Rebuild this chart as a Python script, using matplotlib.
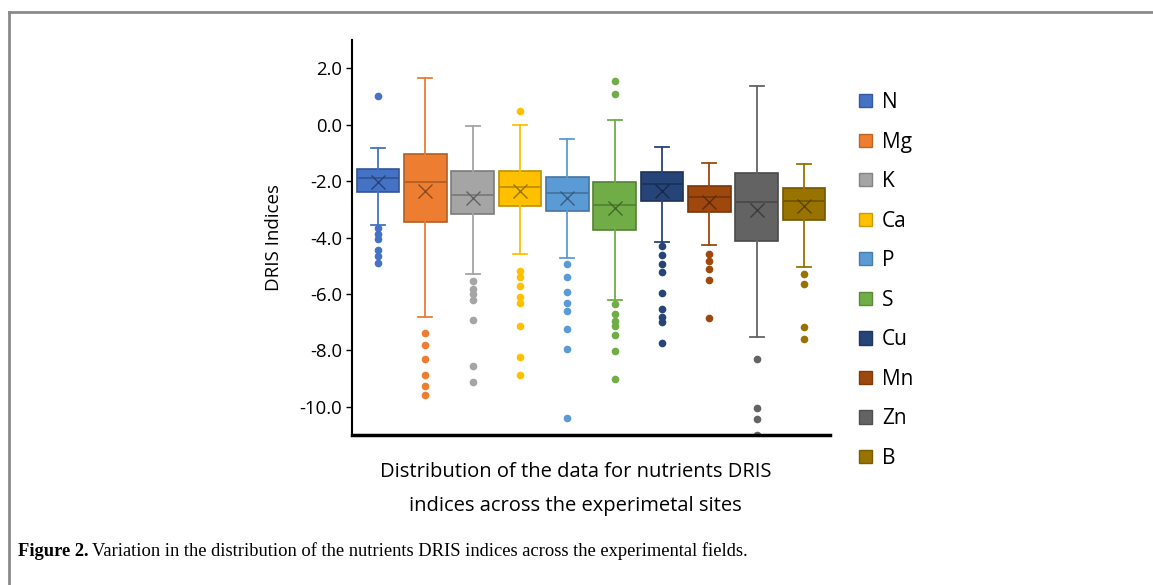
import numpy as np
import matplotlib
matplotlib.use("Agg")
import matplotlib.pyplot as plt
from matplotlib.patches import Patch
from matplotlib.lines import Line2D
import matplotlib.colors as mcolors

# ------------------------------------------------------------------
# Data
# ------------------------------------------------------------------
nutrients = ["N", "Mg", "K", "Ca", "P", "S", "Cu", "Mn", "Zn", "B"]
colors = ["#4472C4", "#ED7D31", "#A5A5A5", "#FFC000", "#5B9BD5",
          "#70AD47", "#264478", "#9E480E", "#636363", "#997300"]

q1 = [-2.40, -3.45, -3.16, -2.89, -3.06, -3.74, -2.69, -3.09, -4.11, -3.39]
q3 = [-1.58, -1.03, -1.65, -1.65, -1.86, -2.05, -1.69, -2.16, -1.72, -2.25]
medians = [-1.88, -2.05, -2.49, -2.22, -2.41, -2.84, -2.12, -2.55, -2.75, -2.70]
means = [-2.03, -2.35, -2.60, -2.34, -2.60, -2.95, -2.35, -2.73, -3.02, -2.88]
whis_hi = [-0.81, 1.66, -0.06, 0.00, -0.52, 0.18, -0.78, -1.36, 1.37, -1.38]
whis_lo = [-3.54, -6.82, -5.31, -4.58, -4.74, -6.22, -4.17, -4.28, -7.52, -5.04]

outliers = [
    [1.00, -3.66, -3.86, -4.07, -4.45, -4.66, -4.89],
    [-7.37, -7.82, -8.31, -8.87, -9.25, -9.59],
    [-5.53, -5.81, -6.00, -6.22, -6.91, -8.54, -9.12],
    [0.50, -5.18, -5.40, -5.73, -6.10, -6.31, -7.13, -8.22, -8.86],
    [-4.94, -5.40, -5.92, -6.31, -6.61, -7.24, -7.94, -10.38],
    [1.55, 1.10, -6.36, -6.71, -6.95, -7.14, -7.46, -8.04, -9.01],
    [-4.31, -4.61, -4.94, -5.23, -5.95, -6.53, -6.81, -7.01, -7.75],
    [-4.60, -4.84, -5.13, -5.51, -6.86],
    [-8.31, -10.03, -10.42, -10.99],
    [-5.31, -5.65, -7.16, -7.58],
]

yticks = [2.0, 0.0, -2.0, -4.0, -6.0, -8.0, -10.0]


def shade(c, f):
    r, g, b = mcolors.to_rgb(c)
    return (r * f, g * f, b * f)


# ------------------------------------------------------------------
# Figure
# ------------------------------------------------------------------
plt.rcParams['font.family'] = ['Open Sans', 'DejaVu Sans']

fig = plt.figure(figsize=(11.53, 5.85), dpi=100)
ax = fig.add_axes([0.3053, 0.2564, 0.4146, 0.6752])

positions = np.arange(1, len(nutrients) + 1)
for i, pos in enumerate(positions):
    stats = [dict(med=medians[i], q1=q1[i], q3=q3[i], whislo=whis_lo[i],
                  whishi=whis_hi[i], mean=means[i], fliers=outliers[i])]
    c = colors[i]
    dark = shade(c, 0.75)
    ax.bxp(stats, positions=[pos], widths=0.9, patch_artist=True,
           showmeans=True, manage_ticks=False,
           boxprops=dict(facecolor=c, edgecolor=dark, linewidth=1.2),
           medianprops=dict(color=dark, linewidth=1.3),
           whiskerprops=dict(color=c, linewidth=1.3),
           capprops=dict(color=c, linewidth=1.3),
           capwidths=0.3,
           meanprops=dict(marker='x', markeredgecolor=shade(c, 0.6),
                          markersize=10, markeredgewidth=1.0),
           flierprops=dict(marker='o', markerfacecolor=c, markeredgecolor=c,
                           markersize=4.5, linestyle='none'))

ax.set_xlim(0.45, 10.55)
ax.set_ylim(-11.0, 3.0)
ax.set_yticks(yticks)
ax.set_yticklabels([f"{v:.1f}" for v in yticks], fontsize=13.3)
ax.set_xticks([])
ax.tick_params(axis='y', direction='out', length=4, width=1, pad=3)
ax.spines['top'].set_visible(False)
ax.spines['right'].set_visible(False)
ax.spines['left'].set_linewidth(1.5)
ax.spines['bottom'].set_linewidth(2.5)
ax.set_ylabel("DRIS Indices", fontsize=13.5, labelpad=12)

# legend
handles = [Patch(facecolor=c, edgecolor=shade(c, 0.8), label=n)
           for n, c in zip(nutrients, colors)]
fig.legend(handles=handles, loc='upper left', bbox_to_anchor=(0.738, 0.857),
           frameon=False, fontsize=15, handlelength=0.6, handleheight=0.6,
           handletextpad=0.5, labelspacing=0.89, borderaxespad=0)

# x description
fig.text(0.499, 0.164, "Distribution of the data for nutrients DRIS\n"
         "indices across the experimetal sites", ha='center', va='center',
         fontsize=14.5, linespacing=1.95)

# frame lines (top and left)
fig.add_artist(Line2D([0.0075, 1.0], [0.979, 0.979], color='#8a8a8a', lw=2))
fig.add_artist(Line2D([0.0075, 0.0075], [0.0, 0.979], color='#8a8a8a', lw=2))

# caption
fig.canvas.draw()
renderer = fig.canvas.get_renderer()
t1 = fig.text(0.0156, 0.049, "Figure 2.", fontsize=13.3, fontweight='bold',
              family='Liberation Serif', ha='left', va='baseline')
bb = t1.get_window_extent(renderer=renderer)
x2 = (bb.x1 + 3) / fig.bbox.width
fig.text(x2, 0.049, "Variation in the distribution of the nutrients DRIS indices "
         "across the experimental fields.", fontsize=13.3,
         family='Liberation Serif', ha='left', va='baseline')

fig.savefig("out.png", dpi=100)
